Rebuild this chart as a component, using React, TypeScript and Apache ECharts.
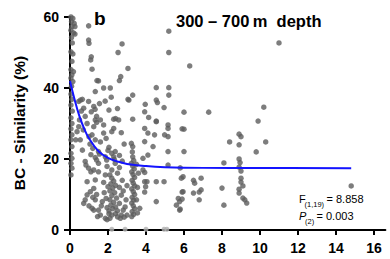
import React, { useEffect, useRef } from "react";
import * as echarts from "echarts";

const FONT = "'Liberation Sans', Arial, Helvetica, sans-serif";

const xTickValues = [0, 2, 4, 6, 8, 10, 12, 14, 16];
const yTickValues = [0, 20, 40, 60];

// points stacked along the y axis (distance ~0)
const axisColumnPoints: [number, number][] = [
  [0.05, 60], [0.15, 59.6], [0.08, 58.7], [0.22, 58.2], [0.1, 57.3], [0.26, 57.3], [0.05, 56.3],
  [0.18, 55.5], [0.26, 55.2], [0.08, 54.2], [0.12, 52.7], [0.05, 50.2], [0.15, 49.6], [0.1, 47.5],
  [0.05, 45.2], [0.18, 44.6], [0.1, 43.7], [0.05, 42.8], [0.15, 41.8], [0.08, 40.5], [0.05, 38.3],
  [0.1, 36.8], [0.05, 35.2], [0.12, 33.5], [0.05, 31.6], [0.1, 30], [0.05, 28.5], [0.1, 26.8],
  [0.05, 25.4], [0.1, 23.5], [0.05, 21.6], [0.1, 20.2], [0.05, 18.8], [0.1, 17.4], [0.05, 15.5],
];

// points around the start of the fitted curve
const nearFitPoints: [number, number][] = [
  [0.46, 36.2], [0.55, 36.6], [0.65, 36.8], [0.72, 34.3], [0.6, 33.5], [0.8, 32], [0.98, 36.2],
  [1.12, 33.3], [1.25, 34.8], [1.32, 34], [1.4, 32], [1.6, 31], [0.46, 29.1], [0.37, 27.7],
  [0.54, 25.4], [0.3, 25.4], [0.9, 30], [1.0, 26.3], [1.16, 26.8], [1.33, 25.4], [1.25, 29.1],
  [1.4, 30.3], [1.77, 29.6], [2.2, 27.7], [2.3, 28.6], [1.77, 27.3], [2.3, 31.2], [2.4, 31.4],
  [1.33, 31], [2.56, 31], [0.5, 31], [0.7, 28.2], [1.05, 24.2], [1.2, 23], [1.6, 24.8], [1.9, 25.8],
  [2.05, 33.8], [1.55, 35.6], [1.85, 36.3], [2.5, 34.2], [2.7, 27.4], [2.85, 24.2],
];

// cluster around the curve elbow
const elbowPoints: [number, number][] = [
  [1.5, 22.1], [1.55, 21.4], [1.4, 19.7], [1.33, 20.4], [1.5, 18.8], [1.86, 20.6], [1.93, 19.7],
  [2.0, 22.4], [2.2, 21.6], [2.3, 20.6], [2.38, 22.1], [2.38, 18.8], [2.33, 19.9], [1.95, 17.9],
  [2.2, 16.9], [0.8, 19.3], [0.84, 18.3], [0.98, 17.4], [1.25, 16.9], [1.5, 16.4], [1.1, 16.4],
  [2.05, 23.3], [2.6, 21], [2.75, 19.4], [2.6, 17.6], [0.65, 22.5], [1.1, 21.2],
];

// dense lower cluster (distance 0.7 - 3)
const lowerClusterPoints: [number, number][] = [
  [0.9, 13.6], [1.33, 14.1], [1.25, 11.7], [1.07, 10.8], [0.9, 9.9], [0.8, 8.5], [1.33, 8.5],
  [1.4, 10], [0.72, 7.5], [1.16, 6.1], [1.0, 6.8], [1.25, 5.6], [1.5, 5.6], [1.6, 4.2],
  [1.86, 3.3], [1.95, 2.9], [2.05, 4.6], [2.1, 3.3], [2.2, 4.2], [2.4, 4.6], [2.5, 3.7],
  [2.7, 4.2], [2.8, 5.6], [1.86, 15.5], [1.77, 13.4], [1.7, 8], [1.8, 10.5], [2.1, 15.5],
  [2.2, 14.6], [2.3, 13.8], [2.15, 13], [2.4, 12.6], [2.25, 11.8], [2.1, 11], [2.35, 10.5],
  [2.2, 9.7], [2.45, 9], [2.1, 8.5], [2.3, 7.8], [2.15, 7], [2.4, 6.5], [2.25, 6], [2.5, 5.4],
  [2.05, 5.4], [2.6, 7.5], [2.7, 9.8], [2.6, 12], [2.75, 14], [2.5, 16], [2.8, 11], [2.9, 6.5],
  [3.0, 4.2], [2.95, 8.5], [3.0, 12.5], [1.95, 6.3], [1.65, 6.8], [1.45, 3.8], [2.65, 3.3],
  [2.85, 3.6], [1.2, 9.2], [2.0, 12.2], [1.9, 8.9],
];

// vertical column near distance 3.3
const columnThreePoints: [number, number][] = [
  [3.23, 24.4], [3.3, 23.5], [3.28, 22], [3.3, 20.6], [3.35, 19.6], [3.23, 18.8], [3.3, 18],
  [3.38, 17.2], [3.25, 16.4], [3.32, 15.6], [3.4, 14.8], [3.27, 14], [3.33, 13.2], [3.4, 12.4],
  [3.25, 11.6], [3.33, 10.8], [3.4, 10], [3.27, 9.2], [3.35, 8.4], [3.25, 7.6], [3.33, 6.8],
  [3.4, 6], [3.27, 5.2], [3.35, 4.4], [3.25, 3.8], [3.5, 8.5], [3.67, 6.1], [3.55, 12], [3.6, 16],
  [3.5, 18.5], [3.55, 4.8],
];

// medium distance points (3.8 - 7.5)
const midRangePoints: [number, number][] = [
  [3.84, 20.2], [3.84, 16.9], [3.93, 16.2], [3.93, 13.6], [4.05, 13.6], [3.98, 12.2], [3.93, 10.7],
  [4.54, 13.6], [4.95, 13.6], [4.54, 8], [4.1, 21.1], [4.37, 23.5], [3.93, 24.9], [4.1, 27.3],
  [4.45, 26.8], [4.98, 26.8], [5.16, 26.3], [3.93, 28.6], [4.54, 30.5], [5.16, 29.6], [5.16, 28.6],
  [6.0, 28.4], [5.16, 22.1], [6.0, 22.1], [5.16, 18.3], [5.95, 15], [5.86, 14.6], [6.56, 13.2],
  [5.95, 10.8], [5.7, 8.9], [5.77, 8], [5.6, 7], [5.77, 5.6], [5.9, 10.7], [5.9, 8.7], [6.5, 14],
  [6.9, 14.6], [6.9, 11.3], [6.8, 10.7], [6.5, 10.4], [6.8, 8.5], [5.8, 17.5], [5.8, 5.9],
];

// upper scattered points
const upperPoints: [number, number][] = [
  [0.98, 57.5], [0.98, 53.5], [1.0, 52.6], [1.12, 48.8], [1.09, 47.9], [1.16, 45.3], [2.74, 52.4],
  [2.53, 50], [2.67, 43.2], [2.6, 42.1], [1.42, 42.1], [1.5, 42], [1.33, 39], [1.77, 40],
  [2.12, 40], [2.17, 37.4], [3.05, 36.8], [3.05, 45.5], [3.3, 38], [3.96, 35.4], [3.93, 33.3],
  [4.54, 40.1], [5.2, 40.1], [5.2, 38], [4.54, 36.6], [4.6, 35.9], [4.95, 34.5], [5.2, 56],
  [5.2, 50], [4.14, 31.7], [4.54, 30.7], [3.3, 31.2], [3.1, 36.6], [6.3, 46.2], [6.0, 33.2],
  [7.3, 33.2], [5.9, 28.5],
];

// far points (8 - 15)
const farPoints: [number, number][] = [
  [8.9, 27], [8.4, 24.8], [8.9, 24], [10.3, 24.8], [9.8, 22], [8.1, 18.9], [8.9, 20], [8.9, 17.7],
  [9.0, 16.6], [9.0, 13.5], [9.1, 12.4], [8.0, 11.8], [8.9, 11.5], [8.9, 10.4], [9.1, 9],
  [9.2, 8.5], [9.3, 7.6], [8.1, 7], [9.0, 26.3], [8.95, 19], [9.0, 14.6], [10.2, 34.6],
  [9.9, 30.7], [11.0, 52.7], [14.8, 12.4],
];

// points almost hidden by the x axis
const axisHiddenPoints: [number, number][] = [
  [2.2, 0.2], [2.9, 0.2], [4.0, 0.2], [4.95, 0.2], [5.1, 0.2],
];

// fitted decay curve
const fitX = [0, 0.25, 0.5, 0.75, 1, 1.5, 2, 2.5, 3, 4, 5, 7, 10, 14.8];
const fitY = [42, 36.6, 32, 28.5, 25.8, 22.2, 20.3, 19.3, 18.6, 18, 17.7, 17.5, 17.45, 17.4];

const allPoints = [
  ...axisColumnPoints,
  ...nearFitPoints,
  ...elbowPoints,
  ...lowerClusterPoints,
  ...columnThreePoints,
  ...midRangePoints,
  ...upperPoints,
  ...farPoints,
];

export default function App() {
  const ref = useRef<HTMLDivElement>(null);
  useEffect(() => {
    if (!ref.current) return;
    const chart = echarts.init(ref.current, null, { renderer: "svg" });
    const axisLineStyle = { color: "#000", width: 2 };
    chart.setOption({
      animation: false,
      backgroundColor: "#fff",
      grid: { left: 70, top: 17, width: 315.4, height: 213, containLabel: false },
      xAxis: {
        type: "value",
        min: 0,
        max: 16.6,
        interval: 2,
        axisLine: { show: true, onZero: false, lineStyle: axisLineStyle },
        axisTick: { show: true, length: 5, lineStyle: axisLineStyle, customValues: xTickValues },
        axisLabel: {
          customValues: xTickValues,
          color: "#000",
          fontSize: 14,
          fontWeight: "bold",
          fontFamily: FONT,
          margin: 11,
        },
        splitLine: { show: false },
      },
      yAxis: {
        type: "value",
        min: 0,
        max: 60,
        interval: 20,
        axisLine: { show: true, onZero: false, lineStyle: axisLineStyle },
        axisTick: { show: true, length: 6, lineStyle: axisLineStyle, customValues: yTickValues },
        axisLabel: {
          customValues: yTickValues,
          color: "#000",
          fontSize: 14,
          fontWeight: "bold",
          fontFamily: FONT,
          margin: 11,
        },
        splitLine: { show: false },
      },
      series: [
        {
          type: "scatter",
          data: axisHiddenPoints,
          symbolSize: 5,
          itemStyle: { color: "#b0b0b0" },
          z: 1,
        },
        {
          type: "scatter",
          data: allPoints,
          symbolSize: 5.5,
          itemStyle: { color: "#5c5c5c" },
          z: 2,
        },
        {
          type: "line",
          data: fitX.map((x, i) => [x, fitY[i]]),
          smooth: 0.4,
          showSymbol: false,
          symbol: "none",
          lineStyle: { color: "#1414ff", width: 2 },
          z: 3,
        },
      ],
      graphic: [
        {
          type: "text",
          x: 19.5,
          y: 123,
          rotation: Math.PI / 2,
          style: {
            text: "BC - Similarity (%)",
            fontSize: 15.5,
            fontWeight: "bold",
            fontFamily: FONT,
            fill: "#000",
            align: "center",
            verticalAlign: "middle",
          },
        },
        {
          type: "text",
          x: 94,
          y: 18.5,
          style: {
            text: "b",
            fontSize: 19,
            fontWeight: "bold",
            fontFamily: FONT,
            fill: "#000",
            align: "left",
            verticalAlign: "middle",
          },
        },
        {
          type: "text",
          x: 176,
          y: 21,
          style: {
            text: "300 \u2013 700\u2009m  depth",
            fontSize: 16.5,
            fontWeight: "bold",
            fontFamily: FONT,
            fill: "#000",
            align: "left",
            verticalAlign: "middle",
          },
        },
        {
          type: "text",
          x: 299,
          y: 199,
          style: { text: "F", fontSize: 11, fontFamily: FONT, fill: "#000", align: "left", verticalAlign: "middle" },
        },
        {
          type: "text",
          x: 304.5,
          y: 204.5,
          style: { text: "(1,19)", fontSize: 7.5, fontFamily: FONT, fill: "#000", align: "left", verticalAlign: "middle" },
        },
        {
          type: "text",
          x: 326.5,
          y: 199,
          style: { text: "= 8.858", fontSize: 11, fontFamily: FONT, fill: "#000", align: "left", verticalAlign: "middle" },
        },
        {
          type: "text",
          x: 299,
          y: 216,
          style: {
            text: "P",
            fontSize: 11,
            fontStyle: "italic",
            fontFamily: FONT,
            fill: "#000",
            align: "left",
            verticalAlign: "middle",
          },
        },
        {
          type: "text",
          x: 305,
          y: 221,
          style: { text: "(2)", fontSize: 7.5, fontFamily: FONT, fill: "#000", align: "left", verticalAlign: "middle" },
        },
        {
          type: "text",
          x: 316.5,
          y: 216,
          style: { text: "= 0.003", fontSize: 11, fontFamily: FONT, fill: "#000", align: "left", verticalAlign: "middle" },
        },
      ],
    });
    return () => chart.dispose();
  }, []);
  return <div ref={ref} style={{ width: 390, height: 259, position: "absolute", left: 0, top: 0 }} />;
}
